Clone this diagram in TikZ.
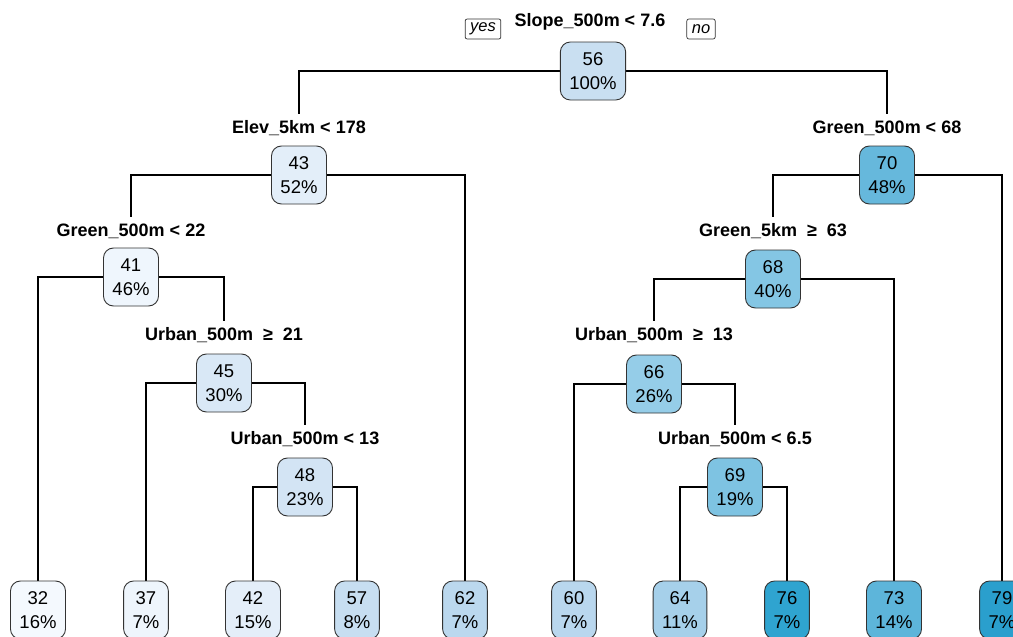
\documentclass[tikz,border=0pt]{standalone}
\usepackage{fontspec}
\setmainfont{Liberation Sans}
\usetikzlibrary{positioning,backgrounds}
\definecolor{bl32}{HTML}{F4F9FE}
\definecolor{bl37}{HTML}{EEF5FC}
\definecolor{bl41}{HTML}{EFF6FD}
\definecolor{bl42}{HTML}{E4EEF9}
\definecolor{bl43}{HTML}{E3EEF9}
\definecolor{bl45}{HTML}{D9E8F6}
\definecolor{bl48}{HTML}{D3E4F4}
\definecolor{bl56}{HTML}{C9DFF1}
\definecolor{bl57}{HTML}{C7DEF1}
\definecolor{bl60}{HTML}{B9D7EE}
\definecolor{bl62}{HTML}{BBD8EE}
\definecolor{bl64}{HTML}{A6D0EA}
\definecolor{bl66}{HTML}{95CDE8}
\definecolor{bl68}{HTML}{84C6E4}
\definecolor{bl69}{HTML}{7EC3E2}
\definecolor{bl70}{HTML}{66B8DC}
\definecolor{bl73}{HTML}{5DB5DA}
\definecolor{bl76}{HTML}{2FA4D0}
\definecolor{bl79}{HTML}{2A9FCD}
\definecolor{bordergray}{HTML}{333333}

\begin{document}
\begin{tikzpicture}[x=1pt, y=-1pt,
    box/.style={draw=bordergray, line width=0.9pt, rounded corners=10pt, align=center,
      inner xsep=9pt, minimum height=58pt, font=\fontsize{18.5}{24}\selectfont},
    rule/.style={anchor=base, inner ysep=6pt, inner xsep=1pt, font=\fontsize{18}{20}\selectfont\bfseries},
    tag/.style={draw=bordergray, line width=0.7pt, rounded corners=2pt, inner xsep=5pt,
      minimum height=20pt, font=\fontsize{16.5}{18}\selectfont\itshape},
    edge/.style={line width=1.1pt, black}]
  \useasboundingbox (0,0) rectangle (1013,637);
  % split rules
  \node[rule] (l1) at (590,27) {Slope\_500m < 7.6};
  \node[rule] (l2) at (299,133) {Elev\_5km < 178};
  \node[rule] (l3) at (887,133) {Green\_500m < 68};
  \node[rule] (l4) at (131,236) {Green\_500m < 22};
  \node[rule] (l5) at (773,236) {Green\_5km\ \ ≥\ \ 63};
  \node[rule] (l6) at (224,340) {Urban\_500m\ \ ≥\ \ 21};
  \node[rule] (l7) at (654,340) {Urban\_500m\ \ ≥\ \ 13};
  \node[rule] (l8) at (305,444) {Urban\_500m < 13};
  \node[rule] (l9) at (735,444) {Urban\_500m < 6.5};
  \node[tag] (yes) at (483,29) {yes};
  \node[tag] (no) at (701,29) {no};
  % inner nodes
  \node[box, fill=bl56] (n1) at (593,71) {56\\100\%};
  \node[box, fill=bl43] (n2) at (299,175) {43\\52\%};
  \node[box, fill=bl70] (n3) at (887,175) {70\\48\%};
  \node[box, fill=bl41] (n4) at (131,277) {41\\46\%};
  \node[box, fill=bl68] (n5) at (773,279) {68\\40\%};
  \node[box, fill=bl45] (n6) at (224,383) {45\\30\%};
  \node[box, fill=bl66] (n7) at (654,384) {66\\26\%};
  \node[box, fill=bl48] (n8) at (305,487) {48\\23\%};
  \node[box, fill=bl69] (n9) at (735,487) {69\\19\%};
  % leaves
  \node[box, fill=bl32] (v32) at (38,610) {32\\16\%};
  \node[box, fill=bl37] (v37) at (146,610) {37\\7\%};
  \node[box, fill=bl42] (v42) at (253,610) {42\\15\%};
  \node[box, fill=bl57] (v57) at (357,610) {57\\8\%};
  \node[box, fill=bl62] (v62) at (465,610) {62\\7\%};
  \node[box, fill=bl60] (v60) at (574,610) {60\\7\%};
  \node[box, fill=bl64] (v64) at (680,610) {64\\11\%};
  \node[box, fill=bl76] (v76) at (787,610) {76\\7\%};
  \node[box, fill=bl73] (v73) at (894,610) {73\\14\%};
  \node[box, fill=bl79] (v79) at (1002,610) {79\\7\%};
  \begin{scope}[on background layer]
    \draw[edge] (n1.center) -| (l2.north);
    \draw[edge] (n1.center) -| (l3.north);
    \draw[edge] (n2.center) -| (l4.north);
    \draw[edge] (n2.center) -| (v62.north);
    \draw[edge] (n3.center) -| (l5.north);
    \draw[edge] (n3.center) -| (v79.north);
    \draw[edge] (n4.center) -| (v32.north);
    \draw[edge] (n4.center) -| (l6.north);
    \draw[edge] (n5.center) -| (l7.north);
    \draw[edge] (n5.center) -| (v73.north);
    \draw[edge] (n6.center) -| (v37.north);
    \draw[edge] (n6.center) -| (l8.north);
    \draw[edge] (n7.center) -| (v60.north);
    \draw[edge] (n7.center) -| (l9.north);
    \draw[edge] (n8.center) -| (v42.north);
    \draw[edge] (n8.center) -| (v57.north);
    \draw[edge] (n9.center) -| (v64.north);
    \draw[edge] (n9.center) -| (v76.north);
  \end{scope}
\end{tikzpicture}
\end{document}
